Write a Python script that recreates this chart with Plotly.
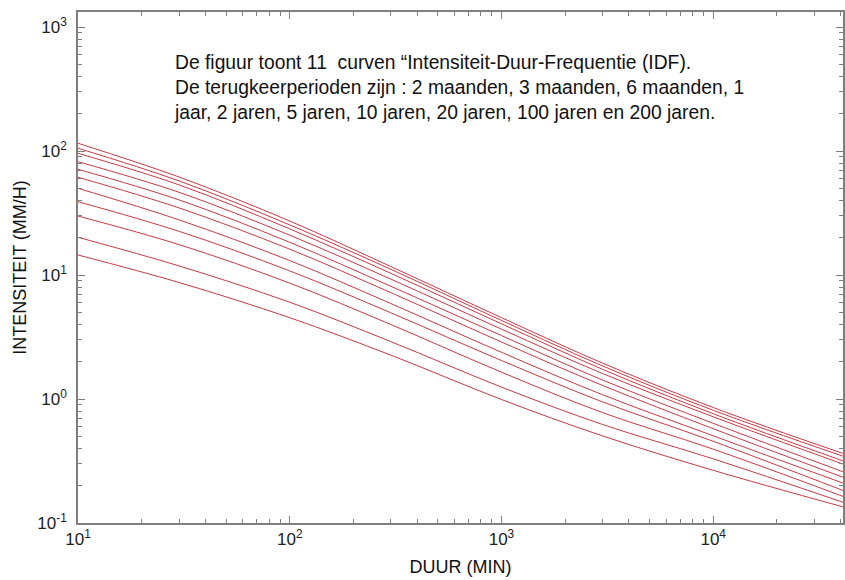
import plotly.graph_objects as go

# Duration (min)
duur = [10, 30, 100, 300, 1000, 3000, 10000, 41000]

# Intensity (mm/h) for 11 return periods (highest first)
curves = [
    [115.4, 61.7, 27.26, 11.71, 4.53, 1.948, 0.854, 0.364],
    [105.2, 57.4, 25.35, 11.12, 4.30, 1.849, 0.811, 0.346],
    [95.8, 53.3, 23.54, 10.32, 4.04, 1.736, 0.761, 0.317],
    [82.0, 46.45, 20.94, 9.27, 3.66, 1.606, 0.719, 0.299],
    [71.2, 40.33, 18.35, 8.12, 3.246, 1.423, 0.637, 0.259],
    [61.4, 34.76, 16.15, 7.21, 2.883, 1.287, 0.576, 0.234],
    [50.0, 27.83, 13.07, 5.89, 2.38, 1.083, 0.505, 0.210],
    [39.0, 22.51, 10.79, 4.96, 2.044, 0.948, 0.456, 0.183],
    [29.9, 17.59, 8.60, 3.99, 1.645, 0.777, 0.394, 0.164],
    [20.14, 11.84, 6.03, 2.904, 1.247, 0.623, 0.329, 0.147],
    [14.5, 8.70, 4.525, 2.259, 0.991, 0.504, 0.266, 0.135],
]

x_ticks = [10, 100, 1000, 10000]
x_ticktext = ["10<sup>1</sup>", "10<sup>2</sup>", "10<sup>3</sup>", "10<sup>4</sup>"]
y_ticks = [0.1, 1, 10, 100, 1000]
y_ticktext = ["10<sup>-1</sup>", "10<sup>0</sup>", "10<sup>1</sup>", "10<sup>2</sup>", "10<sup>3</sup>"]

note_lines = [
    "De figuur toont 11  curven \u201cIntensiteit-Duur-Frequentie (IDF).",
    "De terugkeerperioden zijn : 2 maanden, 3 maanden, 6 maanden, 1",
    "jaar, 2 jaren, 5 jaren, 10 jaren, 20 jaren, 100 jaren en 200 jaren.",
]

minor_x = [m * 10 ** k for k in range(1, 5) for m in range(2, 10)]
minor_y = [m * 10 ** k for k in range(-1, 3) for m in range(2, 10)]

FONT = "Liberation Sans, Arial"

fig = go.Figure()
for c in curves:
    fig.add_trace(go.Scatter(
        x=duur, y=c, mode="lines",
        line=dict(color="#c93a44", width=1, shape="spline", smoothing=1.0),
        showlegend=False, hoverinfo="skip",
    ))

axis_common = dict(
    type="log", showgrid=False, zeroline=False,
    showline=True, linecolor="#7f7f7f", linewidth=1.5, mirror="ticks",
    ticks="inside", ticklen=7, tickcolor="#7f7f7f", tickwidth=1,
    tickfont=dict(family=FONT, size=17, color="#222"),
)

fig.update_xaxes(
    **axis_common,
    range=[1, 4.613],
    tickvals=x_ticks, ticktext=x_ticktext,
    minor=dict(tickvals=minor_x, ticks="inside", ticklen=4, tickcolor="#7f7f7f", showgrid=False),
    title=dict(text="DUUR (MIN)", font=dict(family=FONT, size=18, color="#111"), standoff=12),
)
fig.update_yaxes(
    **axis_common,
    range=[-1, 3.121],
    tickvals=y_ticks, ticktext=y_ticktext,
    ticklabelstandoff=6,
    minor=dict(tickvals=minor_y, ticks="inside", ticklen=4, tickcolor="#7f7f7f", showgrid=False),
    title=dict(text="INTENSITEIT (MM/H)", font=dict(family=FONT, size=18, color="#111"), standoff=6),
)

fig.add_annotation(
    xref="paper", yref="paper", x=(172 - 78) / 767, y=(580 - 57 - 50) / 511,
    xanchor="left", yanchor="top", align="left", showarrow=False,
    text="<br>".join(note_lines),
    font=dict(family=FONT, size=19.3, color="#111"),
)

fig.update_layout(
    width=845, height=580,
    margin=dict(l=78, r=0, t=12, b=57),
    paper_bgcolor="white", plot_bgcolor="white",
)

fig.write_html("out.html")
